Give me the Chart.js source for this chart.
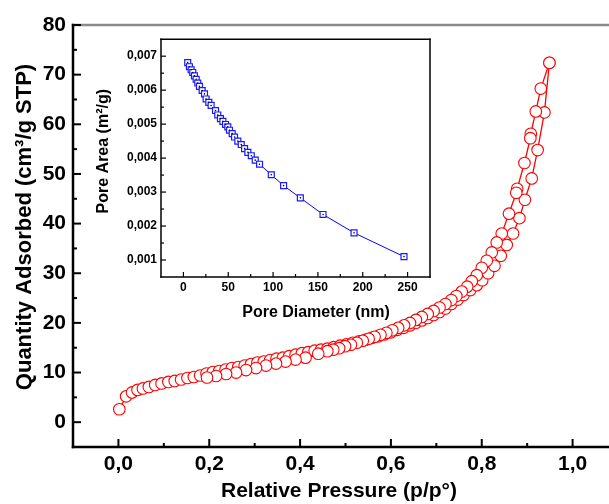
<!DOCTYPE html>
<html>
<head>
<meta charset="utf-8">
<script src="https://cdn.jsdelivr.net/npm/chart.js@4.4.1/dist/chart.umd.min.js"></script>
<style>
  html, body { margin: 0; padding: 0; background: #fff; overflow: hidden; }
  #wrap { position: relative; width: 609px; height: 504px; overflow: hidden; }
  #mainChart { position: absolute; left: 0; top: 0; }
  #insetChart { position: absolute; left: 80px; top: 28px; }
</style>
</head>
<body>
<div id="wrap">
  <canvas id="mainChart" width="630" height="504"></canvas>
  <canvas id="insetChart" width="360" height="300"></canvas>
</div>
<script>
// Isotherm - adsorption branch (p/p°, cm³/g STP)
const adsP = [0.002, 0.017, 0.030, 0.042, 0.054, 0.067, 0.081, 0.095, 0.110, 0.124,
              0.138, 0.152, 0.166, 0.180, 0.194, 0.208, 0.222, 0.236, 0.250, 0.264,
              0.278, 0.292, 0.306, 0.320, 0.334, 0.348, 0.362, 0.376, 0.390, 0.404,
              0.418, 0.432, 0.446, 0.460, 0.474, 0.488, 0.502, 0.516, 0.530, 0.544,
              0.558, 0.572, 0.586, 0.600, 0.614, 0.628, 0.642, 0.655, 0.668, 0.681,
              0.694, 0.707, 0.720, 0.733, 0.747, 0.760, 0.775, 0.789, 0.801, 0.814,
              0.828, 0.842, 0.855, 0.869, 0.883, 0.895, 0.910, 0.923, 0.938, 0.949];
const adsQ = [2.6, 5.2, 6.0, 6.5, 6.8, 7.1, 7.5, 7.8, 8.1, 8.3,
              8.6, 8.9, 9.1, 9.4, 9.8, 10.1, 10.3, 10.6, 10.9, 11.1,
              11.4, 11.7, 12.0, 12.2, 12.5, 12.8, 13.0, 13.3, 13.6, 13.9,
              14.1, 14.4, 14.6, 14.8, 15.1, 15.4, 15.7, 16.0, 16.3, 16.6,
              17.0, 17.3, 17.7, 18.1, 18.6, 19.0, 19.5, 20.0, 20.5, 21.0,
              21.6, 22.2, 22.9, 23.8, 24.7, 25.6, 26.6, 27.6, 28.6, 30.0,
              31.5, 33.5, 35.7, 38.0, 41.1, 44.8, 49.1, 54.8, 62.4, 72.4];

// Isotherm - desorption branch
const desP = [0.949, 0.930, 0.919, 0.908, 0.907, 0.894, 0.878, 0.876, 0.860, 0.844,
              0.833, 0.822, 0.811, 0.800, 0.789, 0.778, 0.768, 0.756, 0.744, 0.733,
              0.720, 0.707, 0.694, 0.681, 0.668, 0.655, 0.642, 0.629, 0.616, 0.603,
              0.590, 0.577, 0.564, 0.551, 0.538, 0.525, 0.512, 0.499, 0.486, 0.473,
              0.460, 0.440, 0.412, 0.390, 0.368, 0.347, 0.325, 0.303, 0.281, 0.259,
              0.237, 0.215, 0.195];
const desQ = [72.4, 67.2, 62.6, 58.1, 57.2, 52.2, 47.0, 46.2, 42.0, 38.0,
              36.2, 34.2, 32.5, 31.1, 29.6, 28.4, 27.3, 26.3, 25.4, 24.6,
              23.8, 23.1, 22.4, 21.8, 21.2, 20.6, 20.0, 19.5, 19.0, 18.5,
              18.0, 17.6, 17.2, 16.8, 16.4, 16.0, 15.6, 15.3, 14.9, 14.6,
              14.3, 13.8, 13.0, 12.6, 12.2, 11.8, 11.4, 10.9, 10.5, 10.0,
              9.7, 9.3, 9.0];

// Inset - pore area distribution
const poreDiam = [4.8, 6.7, 8.6, 10.4, 12.3, 14.2, 16.0, 17.9, 20.9, 23.5,
                  25.3, 28.3, 30.9, 35.8, 38.3, 41.3, 44.0, 47.0, 49.5, 51.4,
                  54.4, 57.0, 60.7, 64.5, 68.2, 71.9, 75.7, 80.1, 84.9, 98.0,
                  111.7, 130.4, 155.7, 190.3, 246.0];
const poreArea = [0.00681, 0.00669, 0.00660, 0.00652, 0.00642, 0.00632, 0.00621, 0.00611, 0.00599, 0.00589,
                  0.00574, 0.00564, 0.00555, 0.00540, 0.00527, 0.00516, 0.00508, 0.00499, 0.00492, 0.00482,
                  0.00472, 0.00462, 0.00450, 0.00440, 0.00428, 0.00417, 0.00407, 0.00394, 0.00382, 0.00351,
                  0.00319, 0.00283, 0.00234, 0.00180, 0.00110];

// Tick values
const mainXTicks = [0, 0.2, 0.4, 0.6, 0.8, 1.0];
const mainXMinor = [0.1, 0.3, 0.5, 0.7, 0.9];
const mainYTicks = [0, 10, 20, 30, 40, 50, 60, 70, 80];
const mainYMinor = [5, 15, 25, 35, 45, 55, 65, 75];
const insetXTicks = [0, 50, 100, 150, 200, 250];
const insetXMinor = [25, 75, 125, 175, 225];
const insetYTicks = [0.001, 0.002, 0.003, 0.004, 0.005, 0.006, 0.007];
const insetYMinor = [0.0015, 0.0025, 0.0035, 0.0045, 0.0055, 0.0065];

const FONT = "'Liberation Sans', Arial, sans-serif";

function pts(xs, ys) {
    return xs.map((v, i) => ({ x: v, y: ys[i] }));
}

// Draws the frame, inward tick marks and the axis titles
const frameTicks = {
    id: 'frameTicks',
    afterDraw(chart, args, o) {
        const { ctx, chartArea: a, scales: { x, y } } = chart;
        const seg = (x1, y1, x2, y2) => {
            ctx.beginPath(); ctx.moveTo(x1, y1); ctx.lineTo(x2, y2); ctx.stroke();
        };
        ctx.save();
        ctx.lineCap = 'square';
        ctx.strokeStyle = o.topColor;
        ctx.lineWidth = o.lineWidth;
        seg(a.left, a.top, a.right, a.top);
        ctx.strokeStyle = '#000';
        seg(a.left, a.top, a.left, a.bottom);
        seg(a.left, a.bottom, a.right, a.bottom);
        seg(a.right, a.top, a.right, a.bottom);

        ctx.lineCap = 'butt';
        ctx.lineWidth = o.tickWidth;
        o.xMajor.forEach(v => { const p = x.getPixelForValue(v); seg(p, a.bottom, p, a.bottom - o.major); });
        o.xMinor.forEach(v => { const p = x.getPixelForValue(v); seg(p, a.bottom, p, a.bottom - o.minor); });
        o.yMajor.forEach(v => { const p = y.getPixelForValue(v); seg(a.left, p, a.left + o.major, p); });
        o.yMinor.forEach(v => { const p = y.getPixelForValue(v); seg(a.left, p, a.left + o.minor, p); });

        ctx.fillStyle = '#000';
        ctx.font = 'bold ' + o.xTitleSize + 'px ' + FONT;
        ctx.textAlign = 'center';
        ctx.textBaseline = 'middle';
        ctx.fillText(o.xTitle, a.left + o.xTitleDx, a.bottom + o.xTitleDy);

        ctx.translate(a.left + o.yTitleDx, a.top + o.yTitleDy);
        ctx.rotate(-Math.PI / 2);
        ctx.font = 'bold ' + o.yTitleSize + 'px ' + FONT;
        ctx.fillText(o.yTitle, 0, 0);
        ctx.restore();
    }
};

// Main isotherm chart
new Chart(document.getElementById('mainChart').getContext('2d'), {
    type: 'scatter',
    data: {
        datasets: [{
            label: 'Desorption',
            data: pts(desP, desQ),
            showLine: true,
            borderColor: '#ff0000',
            borderWidth: 1.3,
            pointRadius: 5.8,
            pointBorderWidth: 1.1,
            pointBorderColor: '#ff0000',
            pointBackgroundColor: '#ffffff'
        }, {
            label: 'Adsorption',
            data: pts(adsP, adsQ),
            showLine: true,
            borderColor: '#ff0000',
            borderWidth: 1.3,
            pointRadius: 5.8,
            pointBorderWidth: 1.1,
            pointBorderColor: '#ff0000',
            pointBackgroundColor: '#ffffff'
        }]
    },
    options: {
        responsive: false,
        animation: false,
        layout: { padding: { top: 25, right: 12, left: 0, bottom: 0 } },
        plugins: {
            legend: { display: false },
            tooltip: { enabled: false },
            frameTicks: {
                lineWidth: 2.5, tickWidth: 2, topColor: '#8a8a8a',
                major: 8, minor: 4,
                xMajor: mainXTicks, xMinor: mainXMinor,
                yMajor: mainYTicks, yMinor: mainYMinor,
                xTitle: 'Relative Pressure (p/p°)', xTitleSize: 21, xTitleDx: 266, xTitleDy: 44,
                yTitle: 'Quantity Adsorbed (cm³/g STP)', yTitleSize: 22, yTitleDx: -48, yTitleDy: 202
            }
        },
        scales: {
            x: {
                type: 'linear', min: -0.1, max: 1.1,
                afterBuildTicks: s => { s.ticks = mainXTicks.map(v => ({ value: v })); },
                afterFit: s => { s.height = 57; },
                grid: { display: false, drawTicks: false },
                border: { display: false },
                ticks: {
                    autoSkip: false, maxRotation: 0, padding: 5, color: '#000',
                    font: { family: FONT, size: 21, weight: 'bold' },
                    callback: v => v.toFixed(1).replace('.', ',')
                }
            },
            y: {
                type: 'linear', min: -5, max: 80,
                afterBuildTicks: s => { s.ticks = mainYTicks.map(v => ({ value: v })); },
                afterFit: s => { s.width = 73; },
                grid: { display: false, drawTicks: false },
                border: { display: false },
                ticks: {
                    autoSkip: false, padding: 7, color: '#000',
                    font: { family: FONT, size: 21, weight: 'bold' }
                }
            }
        }
    },
    plugins: [frameTicks]
});

// Inset: pore area vs pore diameter
new Chart(document.getElementById('insetChart').getContext('2d'), {
    type: 'scatter',
    data: {
        datasets: [{
            label: 'centre',
            data: pts(poreDiam, poreArea),
            showLine: false,
            pointRadius: 0.8,
            pointBorderWidth: 0,
            pointBackgroundColor: '#000060'
        }, {
            label: 'Pore Area',
            data: pts(poreDiam, poreArea),
            showLine: true,
            borderColor: '#0000ff',
            borderWidth: 1,
            pointStyle: 'rect',
            pointRadius: 4.2,
            pointBorderWidth: 1.2,
            pointBorderColor: '#1a1aff',
            pointBackgroundColor: '#ffffff'
        }]
    },
    options: {
        responsive: false,
        animation: false,
        layout: { padding: { top: 8, right: 10, left: 0, bottom: 0 } },
        plugins: {
            legend: { display: false },
            tooltip: { enabled: false },
            frameTicks: {
                lineWidth: 1.5, tickWidth: 1.2, topColor: '#000',
                major: 5, minor: 3,
                xMajor: insetXTicks, xMinor: insetXMinor,
                yMajor: insetYTicks, yMinor: insetYMinor,
                xTitle: 'Pore Diameter (nm)', xTitleSize: 16, xTitleDx: 155, xTitleDy: 36,
                yTitle: 'Pore Area (m²/g)', yTitleSize: 16, yTitleDx: -57, yTitleDy: 112
            }
        },
        scales: {
            x: {
                type: 'linear', min: -25, max: 275,
                afterBuildTicks: s => { s.ticks = insetXTicks.map(v => ({ value: v })); },
                afterFit: s => { s.height = 51; },
                grid: { display: false, drawTicks: false },
                border: { display: false },
                ticks: {
                    autoSkip: false, maxRotation: 0, padding: 3, color: '#000',
                    font: { family: FONT, size: 12, weight: 'bold' }
                }
            },
            y: {
                type: 'linear', min: 0.0005, max: 0.0075,
                afterBuildTicks: s => { s.ticks = insetYTicks.map(v => ({ value: v })); },
                afterFit: s => { s.width = 81; },
                grid: { display: false, drawTicks: false },
                border: { display: false },
                ticks: {
                    autoSkip: false, padding: 4, color: '#000',
                    font: { family: FONT, size: 12, weight: 'bold' },
                    callback: v => v.toFixed(3).replace('.', ',')
                }
            }
        }
    },
    plugins: [frameTicks]
});
</script>
</body>
</html>
